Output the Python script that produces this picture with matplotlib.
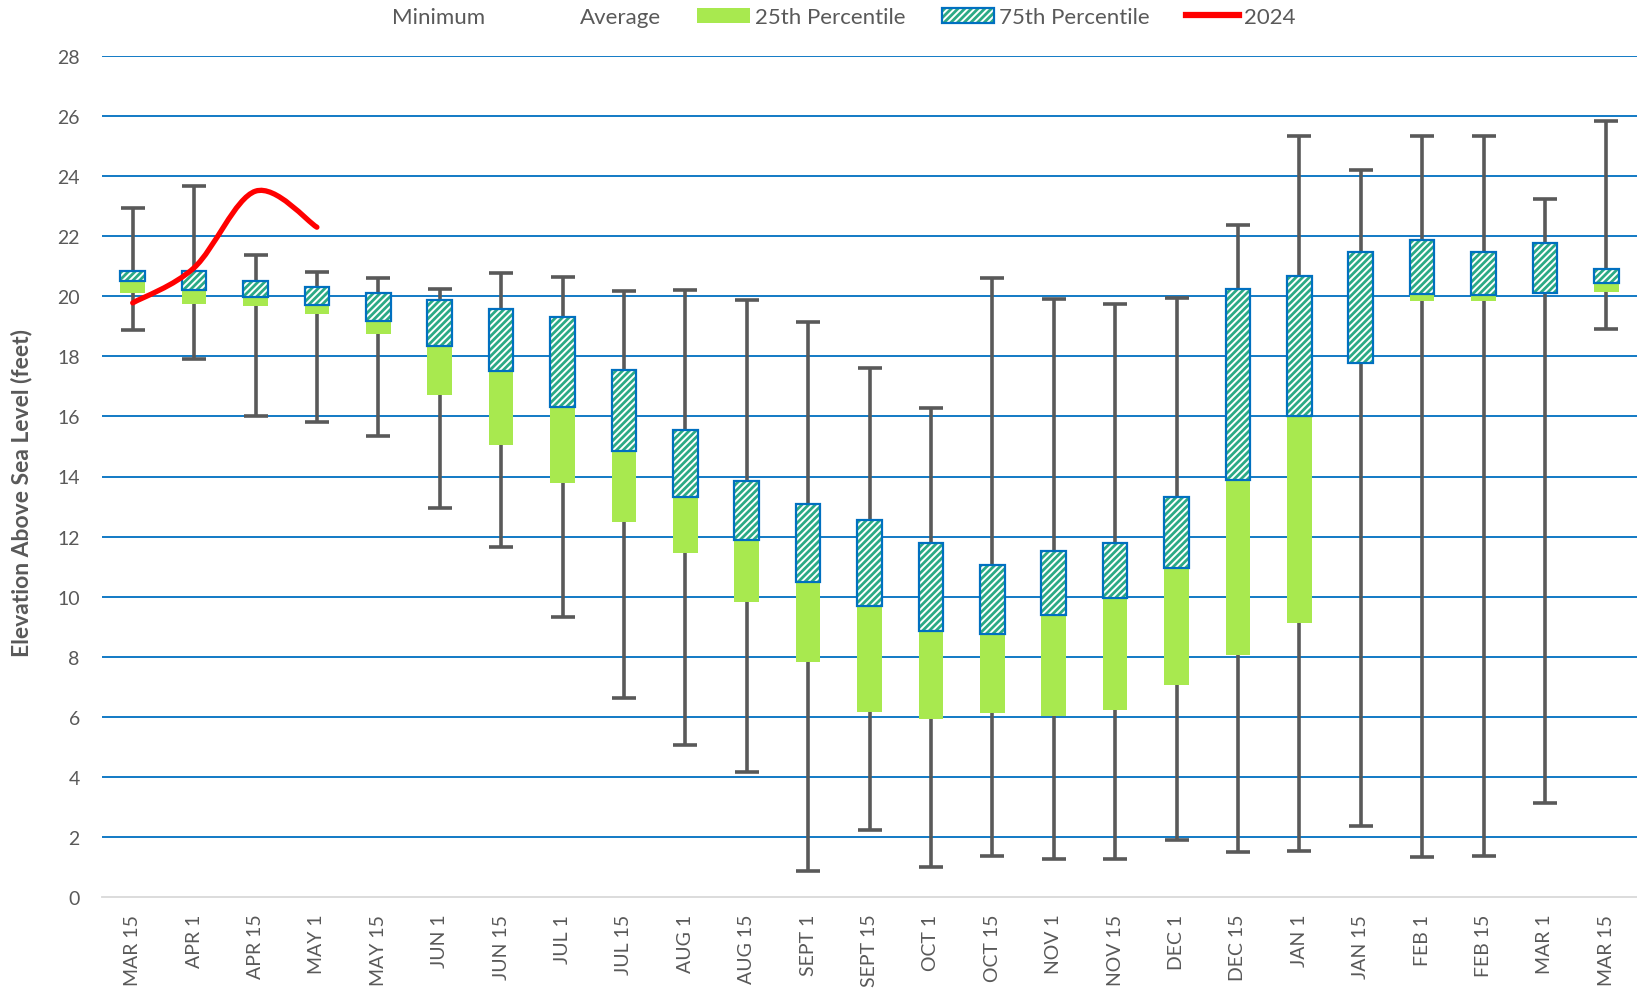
import matplotlib
matplotlib.use("Agg")
import matplotlib.pyplot as plt
from matplotlib.patches import Patch, PathPatch
from matplotlib.lines import Line2D
from matplotlib.path import Path
from matplotlib.legend_handler import HandlerTuple
import numpy as np

labels = ['MAR 15', 'APR 1', 'APR 15', 'MAY 1', 'MAY 15', 'JUN 1', 'JUN 15',
          'JUL 1', 'JUL 15', 'AUG 1', 'AUG 15', 'SEPT 1', 'SEPT 15', 'OCT 1',
          'OCT 15', 'NOV 1', 'NOV 15', 'DEC 1', 'DEC 15', 'JAN 1', 'JAN 15',
          'FEB 1', 'FEB 15', 'MAR 1', 'MAR 15']

minimum = [18.89, 17.92, 16.0, 15.83, 15.34, 12.94, 11.66, 9.33, 6.64, 5.05,
           4.16, 0.88, 2.24, 1.01, 1.36, 1.25, 1.28, 1.9, 1.51, 1.53, 2.36,
           1.34, 1.38, 3.13, 18.9]
p25 = [20.12, 19.75, 19.66, 19.41, 18.74, 16.73, 15.06, 13.8, 12.48, 11.44,
       9.81, 7.81, 6.16, 5.92, 6.12, 6.01, 6.22, 7.06, 8.07, 9.13, 17.79,
       19.83, 19.83, 20.1, 20.14]
average = [20.5, 20.22, 19.97, 19.72, 19.18, 18.35, 17.5, 16.31, 14.86, 13.33,
           11.9, 10.49, 9.69, 8.86, 8.75, 9.39, 9.95, 10.95, 13.89, 16.03,
           17.79, 20.09, 20.05, 20.1, 20.44]
p75 = [20.85, 20.85, 20.51, 20.3, 20.1, 19.88, 19.59, 19.3, 17.54, 15.54,
       13.86, 13.1, 12.56, 11.78, 11.06, 11.52, 11.77, 13.32, 20.23, 20.68,
       21.46, 21.87, 21.48, 21.77, 20.9]
maximum = [22.94, 23.67, 21.37, 20.81, 20.6, 20.24, 20.76, 20.64, 20.18, 20.2,
           19.88, 19.16, 17.61, 16.27, 20.6, 19.92, 19.74, 19.95, 22.38, 25.32,
           24.22, 25.34, 25.35, 23.25, 25.83]
y2024 = [19.78, 20.95, 23.5, 22.3]

GRAY = '#595959'
BLUE = '#0070C0'
GREEN = '#A8E94F'
TEAL = '#2BAA85'
HATCH = '/////'

plt.rcParams['font.family'] = ['Lato', 'DejaVu Sans']
plt.rcParams['hatch.linewidth'] = 2.0

fig = plt.figure(figsize=(16.37, 9.95), dpi=100)
ax = fig.add_axes([102 / 1637, 97 / 995, 1 - 102 / 1637, (898 - 57) / 995])

x = np.arange(len(labels))
mn = np.array(minimum)
mx = np.array(maximum)
q1 = np.array(p25)
av = np.array(average)
q3 = np.array(p75)

# gridlines
for v in range(2, 29, 2):
    ax.axhline(v, color=BLUE, lw=1.3, zorder=1)

# whiskers min..max
mid = (mn + mx) / 2
ax.errorbar(x, mid, yerr=[mid - mn, mx - mid], fmt='none', ecolor=GRAY,
            elinewidth=2.6, capsize=8.5, capthick=2.6, zorder=2)

w = 0.4
ax.bar(x, av - q1, bottom=q1, width=w, color=GREEN, lw=0, zorder=3)
ax.bar(x, q3 - av, bottom=av, width=w, facecolor='white', edgecolor=TEAL,
       hatch=HATCH, lw=0, zorder=4)
ax.bar(x, q3 - av, bottom=av, width=w, facecolor='none', edgecolor=BLUE,
       lw=1.6, zorder=5)

# smoothed 2024 line (Catmull-Rom -> Bezier, like Excel smoothing)
pts = np.column_stack([np.arange(len(y2024)), y2024]).astype(float)
ext = np.vstack([pts[0], pts, pts[-1]])
verts = [pts[0]]
codes = [Path.MOVETO]
for i in range(len(pts) - 1):
    p0, p1, p2, p3 = ext[i], ext[i + 1], ext[i + 2], ext[i + 3]
    verts += [p1 + (p2 - p0) / 6, p2 - (p3 - p1) / 6, p2]
    codes += [Path.CURVE4] * 3
ax.add_patch(PathPatch(Path(verts, codes), facecolor='none', edgecolor='#FF0000',
                       lw=3.8, capstyle='round', zorder=6))

ax.set_xlim(-0.5, len(labels) - 0.5)
ax.set_ylim(0, 28)
ax.set_yticks(range(0, 29, 2))
ax.set_xticks(x)
ax.set_xticklabels(labels, rotation=90)
ax.tick_params(axis='both', length=0, labelsize=14, labelcolor=GRAY)
ax.tick_params(axis='y', pad=16)
ax.tick_params(axis='x', pad=12)
for s in ['top', 'right', 'left']:
    ax.spines[s].set_visible(False)
ax.spines['bottom'].set_color('#D9D9D9')
ax.spines['bottom'].set_linewidth(1.3)

fig.text(22 / 1637, 1 - 493 / 995, 'Elevation Above Sea Level (feet)',
         rotation=90, ha='center', va='center', fontsize=16.5,
         fontweight='bold', color=GRAY)

blank = Patch(facecolor='none', edgecolor='none')
hatched = (Patch(facecolor='white', edgecolor=TEAL, hatch=HATCH, lw=0),
           Patch(facecolor='none', edgecolor=BLUE, lw=1.6))
handles = [blank, blank, Patch(facecolor=GREEN, edgecolor='none'), hatched,
           Line2D([0], [0], color='#FF0000', lw=4.5)]
names = ['Minimum', 'Average', '25th Percentile', '75th Percentile', '2024']
fig.legend(handles, names, loc='upper center', ncol=5,
           bbox_to_anchor=(0.498, 1.012), frameon=False, fontsize=16,
           handlelength=2.35, handletextpad=0.23, columnspacing=1.65,
           labelcolor=GRAY, handler_map={tuple: HandlerTuple(ndivide=1)})

fig.savefig('out.png', dpi=100)
